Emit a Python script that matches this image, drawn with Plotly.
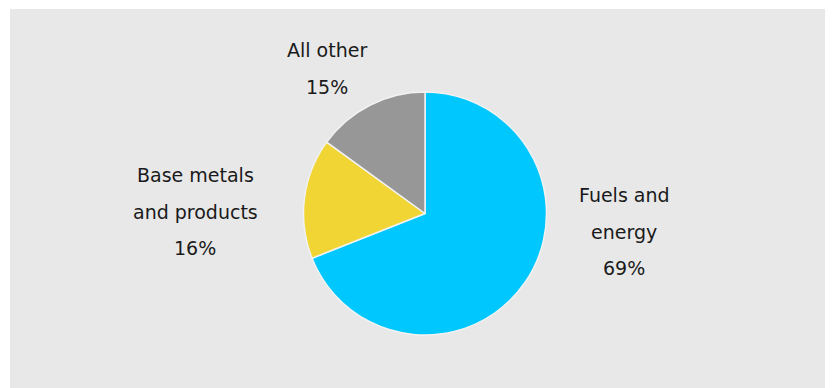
import plotly.graph_objects as go

# Data
labels = ["Fuels and energy", "Base metals and products", "All other"]
label_lines = [["Fuels and", "energy"], ["Base metals", "and products"], ["All other"]]
values = [69, 16, 15]
colors = ["#00C8FF", "#F0D535", "#979797"]

# page body has an 8px margin; figure coordinates are window coords minus 8
OFF = 8
W, H = 825, 380

def px_x(x):
    return (x - OFF) / W

def px_y(y):
    return 1 - (y - OFF) / H

fig = go.Figure()
fig.add_trace(go.Pie(
    labels=labels,
    values=values,
    sort=False,
    direction="clockwise",
    rotation=0,
    textinfo="none",
    hoverinfo="label+percent",
    marker=dict(colors=colors, line=dict(color="#F2F2F2", width=1.5)),
    domain=dict(x=[px_x(303.5), px_x(546.5)], y=[px_y(335), px_y(92)]),
    showlegend=False,
))

# label anchor positions (window pixel centres of the text blocks)
label_pos = [(624, 195), (195, 175), (327, 50)]
line_gap = 36.5

annotations = []
total = sum(values)
for lines, v, (px, py) in zip(label_lines, values, label_pos):
    texts = lines + [f"{round(100 * v / total)}%"]
    for i, t in enumerate(texts):
        annotations.append(dict(
            text=t, x=px_x(px), y=px_y(py + i * line_gap),
            xref="paper", yref="paper", xanchor="center", yanchor="middle",
            showarrow=False,
            font=dict(family="DejaVu Sans", size=19, color="#1A1A1A"),
        ))

fig.update_layout(
    width=W, height=H,
    margin=dict(l=0, r=0, t=0, b=0),
    paper_bgcolor="white",
    plot_bgcolor="white",
    shapes=[dict(type="rect", xref="paper", yref="paper",
                 x0=px_x(10), x1=px_x(830), y0=px_y(388), y1=px_y(9),
                 fillcolor="#E8E8E8", line=dict(width=0), layer="below")],
    annotations=annotations,
)

fig.write_html("out.html")
